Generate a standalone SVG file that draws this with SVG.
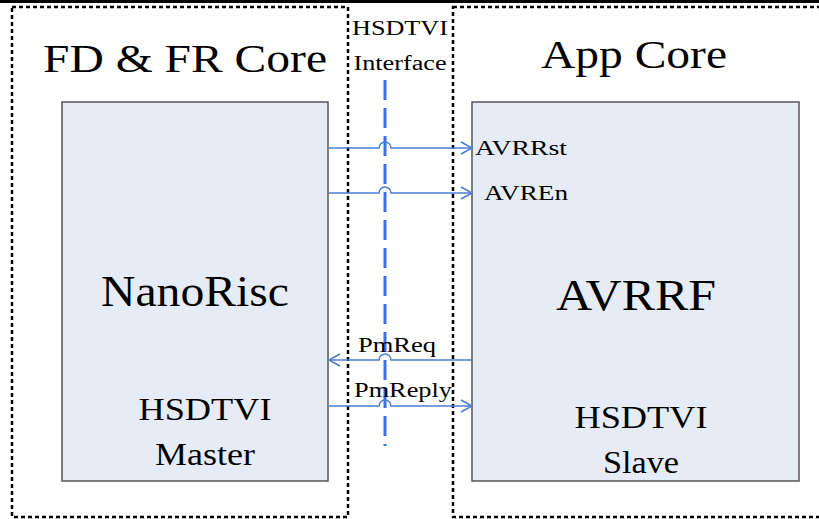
<svg xmlns="http://www.w3.org/2000/svg" width="819" height="519" viewBox="0 0 819 519">
<defs>
<style>
.box{fill:none;stroke:#000;stroke-width:2.5;stroke-dasharray:4,3}
.node{fill:#e6ecf6;stroke:#555;stroke-width:1.5}
.conn{fill:none;stroke:#4a7fd4;stroke-width:1.5}
</style>
<marker id="ah" markerWidth="14" markerHeight="14" refX="12" refY="7" orient="auto" markerUnits="userSpaceOnUse">
<path d="M1,1 L12,7 L1,13" fill="none" stroke="#4a7fd4" stroke-width="1.5"/>
</marker>
</defs>
<rect width="819" height="519" fill="#fff"/>
<rect x="0" y="0" width="819" height="3" fill="#000"/>
<g font-family="'Liberation Serif', 'DejaVu Serif', serif" fill="#000">
<g id="fdfr">
<rect class="box" x="12" y="7" width="336" height="510"/>
<text x="185" y="72" font-size="40" text-anchor="middle" textLength="284" lengthAdjust="spacingAndGlyphs">FD &amp; FR Core</text>
</g>
<g id="app">
<rect class="box" x="453" y="7" width="380" height="510"/>
<text x="634" y="68" font-size="40" text-anchor="middle" textLength="186" lengthAdjust="spacingAndGlyphs">App Core</text>
</g>
<g id="interface">
<text x="400" y="35" font-size="20" text-anchor="middle" textLength="96" lengthAdjust="spacingAndGlyphs">HSDTVI</text>
<text x="400" y="70" font-size="20" text-anchor="middle" textLength="93" lengthAdjust="spacingAndGlyphs">Interface</text>
<line x1="385" y1="80" x2="385" y2="446" stroke="#3a6ff0" stroke-width="3" stroke-dasharray="20,8"/>
</g>
<g id="nanorisc">
<rect class="node" x="62" y="102" width="266" height="379"/>
<text x="195" y="306" font-size="44" text-anchor="middle" textLength="188" lengthAdjust="spacingAndGlyphs">NanoRisc</text>
<text x="205" y="420" font-size="32" text-anchor="middle" textLength="133" lengthAdjust="spacingAndGlyphs">HSDTVI</text>
<text x="205" y="465" font-size="32" text-anchor="middle" textLength="100" lengthAdjust="spacingAndGlyphs">Master</text>
</g>
<g id="avrrf">
<rect class="node" x="472" y="102" width="327" height="379"/>
<text x="636" y="310" font-size="44" text-anchor="middle" textLength="160" lengthAdjust="spacingAndGlyphs">AVRRF</text>
<text x="641" y="428" font-size="32" text-anchor="middle" textLength="133" lengthAdjust="spacingAndGlyphs">HSDTVI</text>
<text x="641" y="473" font-size="32" text-anchor="middle" textLength="76" lengthAdjust="spacingAndGlyphs">Slave</text>
</g>
<g id="connectors">
<path class="conn" d="M329,148 H379 A6,6 0 0 1 391,148 H472" marker-end="url(#ah)"/>
<path class="conn" d="M329,193 H379 A6,6 0 0 1 391,193 H472" marker-end="url(#ah)"/>
<path class="conn" d="M472,360 H391 A6,6 0 0 0 379,360 H329" marker-end="url(#ah)"/>
<path class="conn" d="M329,406 H379 A6,6 0 0 1 391,406 H472" marker-end="url(#ah)"/>
<text x="475" y="155" font-size="20" textLength="92" lengthAdjust="spacingAndGlyphs">AVRRst</text>
<text x="484" y="200" font-size="20" textLength="84" lengthAdjust="spacingAndGlyphs">AVREn</text>
<text x="397" y="352" font-size="20" text-anchor="middle" textLength="78" lengthAdjust="spacingAndGlyphs">PmReq</text>
<text x="403" y="397" font-size="20" text-anchor="middle" textLength="98" lengthAdjust="spacingAndGlyphs">PmReply</text>
</g>
</g>
</svg>
